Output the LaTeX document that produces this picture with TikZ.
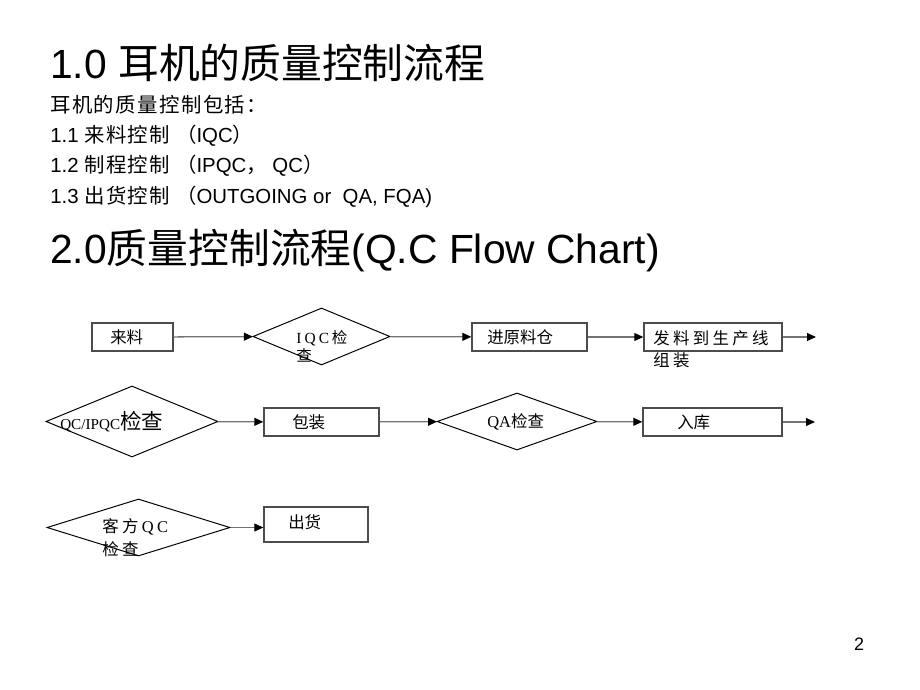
\documentclass[tikz,border=0pt]{standalone}
\usepackage{fontspec}
\setmainfont{Liberation Sans}
\newfontfamily\cjk{Noto Sans CJK SC}
\newfontfamily\cjkb[LetterSpace=7]{Noto Sans CJK SC}
\newfontfamily\cjkls[LetterSpace=20]{Noto Sans CJK SC}
\newfontfamily\serif{Liberation Serif}
\newfontfamily\serifls[LetterSpace=20]{Liberation Serif}
\usetikzlibrary{shapes.geometric}
\usetikzlibrary{arrows.meta}
\tikzset{x=0.025cm, y=-0.025cm,
head/.style={ % Sets the properties for the two headings
anchor=west, inner sep=0,
font=\fontsize{29pt}{32pt}\selectfont},
body/.style={anchor=west, inner sep=0,
font=\fontsize{14.5pt}{16pt}\selectfont},
box/.style={ % Sets the properties for each step box
draw=black!70, line width=0.9pt, inner sep=0,
minimum height=0.7cm},
check/.style={ % Diamonds for the checks
diamond, draw, line width=0.7pt, inner sep=0,
minimum height=1.425cm},
flow/.style={anchor=west, inner sep=0, align=left,
font=\cjk\fontsize{11.7pt}{13pt}\selectfont},
every edge/.style={ % Sets the properties for each connector
draw=black!55, line width=0.9pt,
-{Triangle[length=6.4pt,width=5.6pt,color=black]}}}

\begin{document}
\begin{tikzpicture}
\useasboundingbox (0,0) rectangle (920,690);
% headings and text
\node[head] (title) at (50,63) {1.0 {\cjk 耳机的质量控制流程}};
\node[body] (incl) at (50,105) {\cjkb 耳机的质量控制包括：};
\node[body] (item1) at (50,136) {1.1 {\cjkb 来料控制 （}IQC{\cjk ）}};
\node[body] (item2) at (50,166) {1.2 {\cjkb 制程控制 （}IPQC{\cjk ，} QC{\cjk ）}};
\node[body] (item3) at (50,197) {1.3 {\cjkb 出货控制 （}OUTGOING or\ \ QA, FQA)};
\node[head] (head2) at (50,251) {2.0{\cjk 质量控制流程}(Q.C Flow Chart)};
\node[inner sep=0, font=\fontsize{12.8pt}{14pt}\selectfont] (page) at (859,644) {2};
% row 1
\node[box, minimum width=2.025cm] (lail) at (132.5,337) {};
\node[check, minimum width=3.425cm] (iqc) at (321.5,336.5) {};
\node[box, minimum width=2.875cm] (cang) at (529.5,337) {};
\node[box, minimum width=3.45cm] (fal) at (713,337) {};
\coordinate (end1) at (816,337);
\node[flow] (laiT) at (110,337) {来料};
\node[flow, font=\cjk\fontsize{11pt}{12.8pt}\selectfont] (iqcT) at (296,346) {{\serifls IQC}\hspace{2pt}{\cjkls 检}\\查};
\node[flow] (cangT) at (487,337) {进原料仓};
\node[flow, font=\cjkls\fontsize{11.7pt}{15.6pt}\selectfont] (falT) at (653,349) {发料到生产线\\组装};
% row 2
\node[check, minimum width=4.3cm, minimum height=1.775cm] (ipqc) at (132,421.5) {};
\node[box, minimum width=2.875cm] (bao) at (321.5,422) {};
\node[check, minimum width=4cm] (qa) at (517,421.5) {};
\node[box, minimum width=3.475cm] (ruku) at (712.5,422) {};
\coordinate (end2) at (815,422);
\node[flow] (ipqcT) at (60,422) {{\serif\fontsize{10.8pt}{12pt}\selectfont QC/IPQC}{\fontsize{15.3pt}{16pt}\selectfont 检查}};
\node[flow] (baoT) at (292,422) {包装};
\node[flow] (qaT) at (487,422) {{\serif QA}检查};
\node[flow] (rukuT) at (677,422) {入库};
% row 3
\node[check, minimum width=4.575cm] (kqc) at (138.5,527.5) {};
\node[box, minimum width=2.6cm, minimum height=0.875cm] (chu) at (316,524.5) {};
\node[flow, font=\cjkls\fontsize{11.7pt}{16.4pt}\selectfont] (kqcT) at (102,538) {客方\hspace{2.5pt}{\serifls QC}\\检查};
\node[flow] (chuT) at (288,522) {出货};
% connectors
\draw (lail) edge (iqc);
\draw (iqc) edge (cang);
\draw (cang) edge (fal);
\draw (fal) edge (end1);
\draw (ipqc) edge (bao);
\draw (bao) edge (qa);
\draw (qa) edge (ruku);
\draw (ruku) edge (end2);
\draw (kqc.east) edge (chu.west |- kqc.east);
\end{tikzpicture}
\end{document}
